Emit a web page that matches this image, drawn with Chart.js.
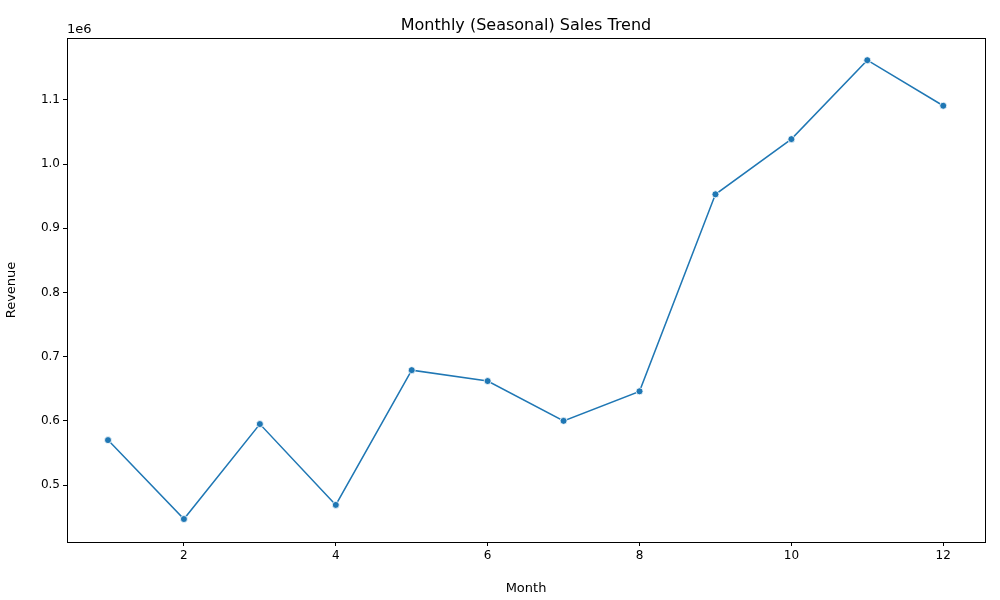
<!DOCTYPE html>
<html>
<head>
<meta charset="utf-8">
<script src="https://cdn.jsdelivr.net/npm/chart.js@4"></script>
<style>
  html, body { margin: 0; padding: 0; background: #fff; }
  #wrap { width: 1000px; height: 600px; }
</style>
</head>
<body>
<div id="wrap"><canvas id="chart" width="1000" height="600"></canvas></div>
<script>
const months = [1, 2, 3, 4, 5, 6, 7, 8, 9, 10, 11, 12];
const revenue = [570000, 447000, 595000, 469000, 679000, 662000, 600000, 646000, 953000, 1039000, 1162000, 1091000];
const xTicks = [2, 4, 6, 8, 10, 12];
const yTicks = [500000, 600000, 700000, 800000, 900000, 1000000, 1100000];

const LINE_COLOR = '#1f77b4';
const FONT = 'DejaVu Sans';

// Frame around the plot, title and the offset "1e6" label
const decorations = {
    id: 'decorations',
    afterDraw(chart) {
        const { ctx, chartArea: a } = chart;
        ctx.save();
        ctx.strokeStyle = '#000';
        ctx.lineWidth = 1;
        ctx.strokeRect(a.left + 0.5, a.top + 0.5, a.right - a.left, a.bottom - a.top);
        ctx.fillStyle = '#000';
        ctx.font = `16px "${FONT}"`;
        ctx.textAlign = 'center';
        ctx.textBaseline = 'alphabetic';
        ctx.fillText('Monthly (Seasonal) Sales Trend', (a.left + a.right) / 2, a.top - 8);
        ctx.font = `13px "${FONT}"`;
        ctx.textAlign = 'left';
        ctx.fillText('1e6', a.left, a.top - 5);
        ctx.restore();
    }
};

const ctx = document.getElementById('chart').getContext('2d');
new Chart(ctx, {
    type: 'line',
    data: {
        datasets: [{
            data: months.map((m, i) => ({ x: m, y: revenue[i] })),
            borderColor: LINE_COLOR,
            backgroundColor: LINE_COLOR,
            borderWidth: 1.5,
            pointRadius: 3.5,
            pointBorderColor: '#fff',
            pointBorderWidth: 0.8,
            tension: 0
        }]
    },
    options: {
        responsive: false,
        animation: false,
        layout: { padding: { top: 38, right: 15, left: 0, bottom: 0 } },
        plugins: { legend: { display: false }, title: { display: false }, tooltip: { enabled: false } },
        scales: {
            x: {
                type: 'linear',
                min: 0.46,
                max: 12.55,
                afterBuildTicks: s => { s.ticks = xTicks.map(v => ({ value: v })); },
                afterFit: s => { s.height = 58; },
                grid: { display: true, drawOnChartArea: false, tickLength: 4, color: '#000' },
                border: { display: false },
                ticks: { color: '#000', font: { family: FONT, size: 12 }, padding: 3, maxRotation: 0 },
                title: { display: true, text: 'Month', color: '#000', font: { family: FONT, size: 13 }, padding: { top: 4 } }
            },
            y: {
                min: 411200,
                max: 1196600,
                afterBuildTicks: s => { s.ticks = yTicks.map(v => ({ value: v })); },
                afterFit: s => { s.width = 67; },
                grid: { display: true, drawOnChartArea: false, tickLength: 4, color: '#000' },
                border: { display: false },
                ticks: { color: '#000', font: { family: FONT, size: 12 }, padding: 3, callback: v => (v / 1e6).toFixed(1) },
                title: { display: true, text: 'Revenue', color: '#000', font: { family: FONT, size: 13 }, padding: { bottom: 4 } }
            }
        }
    },
    plugins: [decorations]
});
</script>
</body>
</html>
